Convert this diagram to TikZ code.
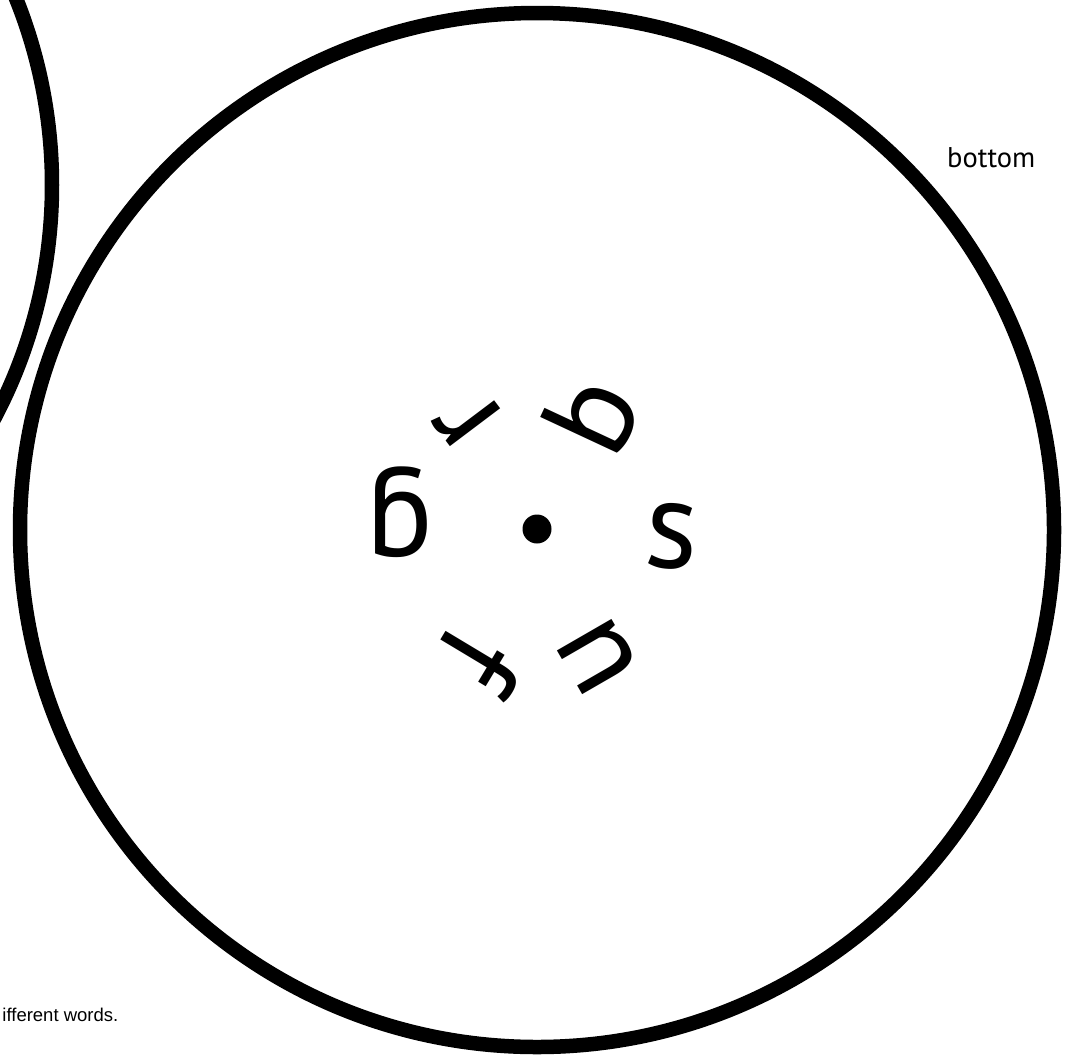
\documentclass[tikz,border=0pt]{standalone}
\usepackage{fontspec}
\setmainfont{PT Sans}
\newfontfamily\arialfont{Liberation Sans}
\newfontfamily\ringfont{PT Sans}
\begin{document}
\begin{tikzpicture}[x=1pt,y=-1pt,
  ring/.style={draw=black,line width=14.5pt},
  glyph/.style={inner sep=0pt,font=\ringfont\fontsize{126}{126}\selectfont},
  lbl/.style={inner sep=0pt}]
\useasboundingbox (0,0) rectangle (1075,1055);
\clip (0,0) rectangle (1075,1055);
\fill[white] (0,0) rectangle (1075,1055);
\draw[ring] (-448,185) circle[radius=500];
\draw[ring] (537,530) circle[radius=517];
\fill (537,529) circle[radius=14.5];
\node[glyph,rotate=-3] (ls) at (672,536) {s};
\node[glyph,rotate=65] (lb) at (591,414) {b};
\node[glyph,rotate=127] (lr) at (468,419) {r};
\node[glyph,rotate=180] (lg) at (400,512) {g};
\node[glyph,rotate=239] (lf) at (480,661) {f};
\node[glyph,rotate=300] (ln) at (598,656) {n};
\node[lbl,anchor=base west,font=\fontsize{28.5}{28.5}\selectfont] (bottom) at (947,167) {bottom};
\node[lbl,anchor=base east,font=\arialfont\fontsize{18.5}{18.5}\selectfont] (words) at (118.5,1021) {ifferent words.};
\end{tikzpicture}
\end{document}
